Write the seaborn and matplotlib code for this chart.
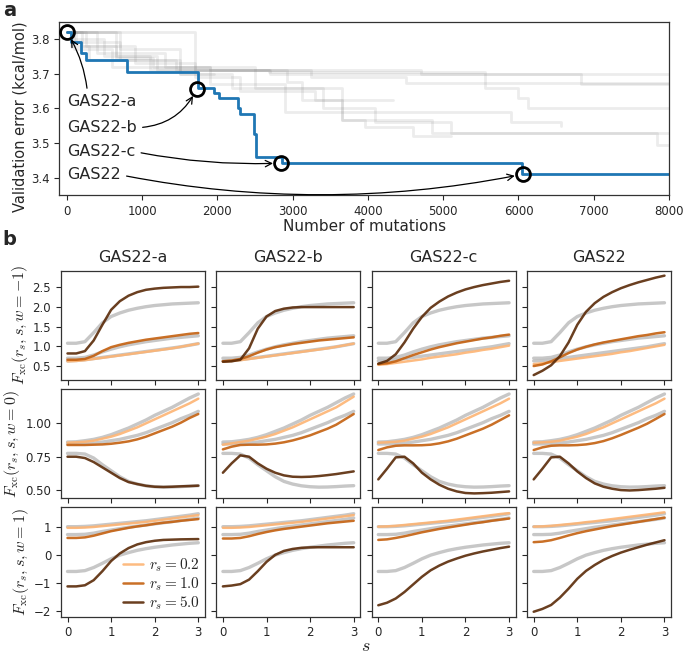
import matplotlib
matplotlib.use("Agg")
import matplotlib.pyplot as plt
import seaborn as sns

sns.set_theme(style="ticks")
plt.rcParams["font.family"] = ["DejaVu Sans"]
plt.rcParams["mathtext.fontset"] = "cm"
plt.rcParams["xtick.labelsize"] = 8.5
plt.rcParams["ytick.labelsize"] = 8.5
plt.rcParams["xtick.major.size"] = 3.5
plt.rcParams["ytick.major.size"] = 3.5
plt.rcParams["xtick.major.width"] = 0.8
plt.rcParams["ytick.major.width"] = 0.8
plt.rcParams["axes.linewidth"] = 0.9
plt.rcParams["axes.edgecolor"] = "#333333"

# ---- panel a: validation error vs number of mutations ----
best_x = [0, 60, 190, 260, 800, 1740, 1960, 2020, 2270, 2300, 2480, 2510, 2860, 6050, 8000]
best_y = [3.82, 3.79, 3.76, 3.74, 3.705, 3.66, 3.645, 3.63, 3.60, 3.585, 3.525, 3.46, 3.442, 3.41, 3.41]

gray_runs_x = [
    [0, 250, 650, 1150, 1900, 4700, 8000],
    [0, 120, 700, 1450, 3250, 4500, 8000],
    [0, 80, 500, 1200, 2680, 5560, 6000, 6120, 8000],
    [0, 650, 1100, 2920, 3120, 3650, 3960, 4600, 5100],
    [0, 200, 900, 1700, 2300, 3300, 4330],
    [0, 100, 600, 1900, 2900, 5900, 6570],
    [0, 400, 1300, 2500, 3660, 4850, 7840, 8000],
    [0, 50, 300, 1500, 1950],
    [0, 700, 1500, 2200, 3400, 4100, 5100, 8000],
    [0, 1700, 2700, 6830, 8000],
]
gray_runs_y = [
    [3.82, 3.78, 3.745, 3.72, 3.71, 3.70, 3.70],
    [3.82, 3.79, 3.74, 3.71, 3.69, 3.672, 3.672],
    [3.82, 3.80, 3.75, 3.71, 3.705, 3.66, 3.63, 3.60, 3.60],
    [3.82, 3.75, 3.71, 3.675, 3.625, 3.566, 3.547, 3.52, 3.52],
    [3.82, 3.78, 3.73, 3.69, 3.65, 3.624, 3.624],
    [3.82, 3.77, 3.72, 3.67, 3.59, 3.56, 3.55],
    [3.82, 3.76, 3.72, 3.66, 3.566, 3.53, 3.495, 3.495],
    [3.82, 3.78, 3.74, 3.70, 3.70],
    [3.82, 3.77, 3.70, 3.66, 3.60, 3.56, 3.53, 3.53],
    [3.82, 3.71, 3.70, 3.67, 3.67],
]

marked_names = ["GAS22-a", "GAS22-b", "GAS22-c", "GAS22"]
marked_x = [0, 1730, 2850, 6060]
marked_y = [3.82, 3.657, 3.442, 3.41]
label_y = [3.619, 3.544, 3.475, 3.408]

# ---- panel b: enhancement factors ----
s_grid = [0.0, 0.2, 0.4, 0.6, 0.8, 1.0, 1.2, 1.4, 1.6, 1.8, 2.0, 2.2, 2.4, 2.6, 2.8, 3.0]
rs_labels = [r"$r_s = 0.2$", r"$r_s = 1.0$", r"$r_s = 5.0$"]
rs_colors = ["#fdb473", "#c4600f", "#5a2a08"]
w_labels = [r"$F_{\rm xc}(r_s, s, w=-1)$", r"$F_{\rm xc}(r_s, s, w=0)$", r"$F_{\rm xc}(r_s, s, w=1)$"]
col_titles = ["GAS22-a", "GAS22-b", "GAS22-c", "GAS22"]

# reference functional (gray), order rs = 0.2, 1.0, 5.0
ref_wm1 = [
    [0.63, 0.64, 0.66, 0.69, 0.72, 0.75, 0.78, 0.81, 0.84, 0.87, 0.90, 0.93, 0.96, 0.99, 1.03, 1.07],
    [0.70, 0.70, 0.72, 0.78, 0.86, 0.93, 0.99, 1.04, 1.08, 1.12, 1.15, 1.18, 1.21, 1.23, 1.25, 1.27],
    [1.08, 1.08, 1.12, 1.35, 1.60, 1.76, 1.85, 1.92, 1.97, 2.01, 2.04, 2.06, 2.08, 2.09, 2.10, 2.11],
]
ref_w0 = [
    [0.86, 0.862, 0.87, 0.88, 0.895, 0.915, 0.94, 0.965, 0.995, 1.025, 1.06, 1.09, 1.12, 1.155, 1.19, 1.22],
    [0.845, 0.846, 0.848, 0.852, 0.86, 0.87, 0.88, 0.895, 0.91, 0.93, 0.955, 0.98, 1.005, 1.035, 1.06, 1.09],
    [0.775, 0.775, 0.77, 0.74, 0.69, 0.645, 0.60, 0.565, 0.545, 0.532, 0.525, 0.522, 0.523, 0.526, 0.53, 0.533],
]
ref_wp1 = [
    [1.00, 1.00, 1.01, 1.03, 1.06, 1.09, 1.12, 1.15, 1.18, 1.21, 1.25, 1.29, 1.33, 1.37, 1.41, 1.46],
    [0.72, 0.72, 0.73, 0.77, 0.83, 0.88, 0.93, 0.98, 1.02, 1.06, 1.10, 1.14, 1.18, 1.22, 1.26, 1.31],
    [-0.59, -0.59, -0.56, -0.45, -0.30, -0.14, -0.01, 0.08, 0.16, 0.22, 0.27, 0.31, 0.35, 0.38, 0.41, 0.43],
]

gas22a_wm1 = [
    [0.62, 0.63, 0.65, 0.68, 0.71, 0.74, 0.77, 0.80, 0.83, 0.86, 0.89, 0.92, 0.95, 0.99, 1.03, 1.07],
    [0.66, 0.66, 0.68, 0.76, 0.88, 0.98, 1.04, 1.09, 1.13, 1.17, 1.20, 1.23, 1.26, 1.29, 1.32, 1.34],
    [0.82, 0.82, 0.88, 1.15, 1.55, 1.93, 2.15, 2.29, 2.38, 2.44, 2.47, 2.49, 2.50, 2.51, 2.51, 2.52],
]
gas22b_wm1 = [
    [0.62, 0.63, 0.65, 0.68, 0.71, 0.74, 0.77, 0.80, 0.83, 0.86, 0.89, 0.92, 0.95, 0.99, 1.03, 1.07],
    [0.62, 0.64, 0.68, 0.75, 0.84, 0.92, 0.98, 1.02, 1.06, 1.09, 1.12, 1.15, 1.17, 1.19, 1.21, 1.23],
    [0.61, 0.62, 0.66, 0.95, 1.45, 1.76, 1.90, 1.96, 1.99, 2.0, 2.0, 2.0, 2.0, 2.0, 2.0, 2.0],
]
gas22c_wm1 = [
    [0.53, 0.55, 0.58, 0.61, 0.64, 0.67, 0.71, 0.74, 0.77, 0.80, 0.84, 0.87, 0.91, 0.94, 0.98, 1.02],
    [0.55, 0.57, 0.62, 0.70, 0.78, 0.85, 0.92, 0.98, 1.03, 1.08, 1.12, 1.16, 1.20, 1.23, 1.27, 1.30],
    [0.56, 0.63, 0.80, 1.10, 1.45, 1.75, 1.98, 2.14, 2.27, 2.37, 2.45, 2.51, 2.56, 2.60, 2.64, 2.67],
]
gas22_wm1 = [
    [0.55, 0.57, 0.60, 0.63, 0.66, 0.69, 0.72, 0.75, 0.78, 0.81, 0.85, 0.88, 0.92, 0.96, 1.00, 1.04],
    [0.50, 0.54, 0.62, 0.72, 0.83, 0.92, 0.99, 1.05, 1.10, 1.14, 1.18, 1.22, 1.26, 1.29, 1.33, 1.36],
    [0.27, 0.38, 0.52, 0.75, 1.10, 1.55, 1.88, 2.10, 2.26, 2.38, 2.48, 2.56, 2.63, 2.69, 2.75, 2.80],
]

gas22a_w0 = [
    [0.855, 0.858, 0.862, 0.87, 0.885, 0.90, 0.92, 0.945, 0.97, 1.0, 1.03, 1.06, 1.09, 1.12, 1.15, 1.185],
    [0.838, 0.838, 0.838, 0.84, 0.842, 0.847, 0.855, 0.865, 0.88, 0.90, 0.925, 0.95, 0.975, 1.005, 1.04, 1.07],
    [0.75, 0.75, 0.74, 0.71, 0.67, 0.63, 0.59, 0.56, 0.545, 0.532, 0.525, 0.523, 0.525, 0.528, 0.53, 0.533],
]
gas22b_w0 = [
    [0.84, 0.85, 0.86, 0.87, 0.885, 0.90, 0.92, 0.945, 0.97, 1.0, 1.03, 1.06, 1.09, 1.12, 1.16, 1.20],
    [0.805, 0.825, 0.838, 0.84, 0.84, 0.842, 0.848, 0.858, 0.872, 0.89, 0.91, 0.935, 0.96, 0.99, 1.03, 1.07],
    [0.63, 0.70, 0.76, 0.75, 0.70, 0.66, 0.63, 0.61, 0.60, 0.598, 0.60, 0.605, 0.612, 0.62, 0.63, 0.64],
]
gas22c_w0 = [
    [0.855, 0.858, 0.862, 0.87, 0.885, 0.90, 0.92, 0.945, 0.97, 1.0, 1.03, 1.06, 1.09, 1.12, 1.15, 1.185],
    [0.80, 0.82, 0.832, 0.835, 0.835, 0.836, 0.84, 0.85, 0.865, 0.885, 0.91, 0.935, 0.96, 0.99, 1.025, 1.06],
    [0.58, 0.66, 0.745, 0.75, 0.70, 0.63, 0.58, 0.54, 0.51, 0.49, 0.478, 0.475, 0.477, 0.48, 0.485, 0.49],
]
gas22_w0 = [
    [0.855, 0.858, 0.862, 0.87, 0.885, 0.90, 0.92, 0.945, 0.97, 1.0, 1.03, 1.06, 1.09, 1.12, 1.15, 1.185],
    [0.80, 0.82, 0.832, 0.835, 0.835, 0.837, 0.842, 0.852, 0.867, 0.888, 0.913, 0.94, 0.967, 0.997, 1.033, 1.07],
    [0.58, 0.66, 0.745, 0.75, 0.70, 0.64, 0.59, 0.55, 0.525, 0.51, 0.50, 0.497, 0.50, 0.505, 0.51, 0.517],
]

gas22a_wp1 = [
    [0.96, 0.96, 0.97, 0.99, 1.02, 1.05, 1.08, 1.11, 1.14, 1.17, 1.21, 1.25, 1.29, 1.33, 1.37, 1.41],
    [0.60, 0.60, 0.62, 0.68, 0.76, 0.84, 0.90, 0.96, 1.01, 1.05, 1.10, 1.14, 1.17, 1.21, 1.24, 1.27],
    [-1.12, -1.12, -1.08, -0.90, -0.58, -0.22, 0.05, 0.24, 0.37, 0.45, 0.50, 0.53, 0.54, 0.55, 0.555, 0.56],
]
gas22b_wp1 = [
    [0.96, 0.96, 0.97, 0.99, 1.02, 1.05, 1.08, 1.11, 1.14, 1.17, 1.21, 1.25, 1.29, 1.33, 1.37, 1.41],
    [0.58, 0.58, 0.60, 0.66, 0.74, 0.81, 0.87, 0.92, 0.96, 1.00, 1.04, 1.08, 1.12, 1.15, 1.18, 1.21],
    [-1.12, -1.09, -1.04, -0.88, -0.58, -0.25, 0.0, 0.14, 0.21, 0.25, 0.265, 0.27, 0.27, 0.27, 0.27, 0.27],
]
gas22c_wp1 = [
    [1.00, 1.01, 1.03, 1.06, 1.09, 1.12, 1.15, 1.18, 1.21, 1.25, 1.29, 1.33, 1.37, 1.41, 1.45, 1.48],
    [0.53, 0.55, 0.60, 0.66, 0.73, 0.80, 0.86, 0.92, 0.97, 1.02, 1.07, 1.12, 1.16, 1.21, 1.25, 1.29],
    [-1.79, -1.70, -1.55, -1.32, -1.05, -0.78, -0.55, -0.38, -0.24, -0.13, -0.03, 0.05, 0.12, 0.18, 0.24, 0.29],
]
gas22_wp1 = [
    [1.00, 1.01, 1.03, 1.06, 1.09, 1.12, 1.16, 1.19, 1.23, 1.27, 1.31, 1.35, 1.39, 1.43, 1.47, 1.51],
    [0.45, 0.47, 0.52, 0.60, 0.69, 0.77, 0.84, 0.90, 0.96, 1.02, 1.07, 1.12, 1.17, 1.22, 1.27, 1.32],
    [-2.02, -1.92, -1.78, -1.52, -1.20, -0.85, -0.57, -0.36, -0.18, -0.04, 0.08, 0.18, 0.27, 0.36, 0.44, 0.52],
]

ref_rows = [ref_wm1, ref_w0, ref_wp1]
gas_rows = [
    [gas22a_wm1, gas22b_wm1, gas22c_wm1, gas22_wm1],
    [gas22a_w0, gas22b_w0, gas22c_w0, gas22_w0],
    [gas22a_wp1, gas22b_wp1, gas22c_wp1, gas22_wp1],
]

fig = plt.figure(figsize=(6.92, 6.61), dpi=100)

# panel a
ax_a = fig.add_axes([0.0857, 0.705, 0.8811, 0.2622])
for rx, ry in zip(gray_runs_x, gray_runs_y):
    sns.lineplot(x=rx, y=ry, ax=ax_a, color="gray", alpha=0.15, lw=2,
                 drawstyle="steps-post", estimator=None)
sns.lineplot(x=best_x, y=best_y, ax=ax_a, color="#1f77b4", lw=2,
             drawstyle="steps-post", estimator=None)
ax_a.plot(marked_x, marked_y, "o", ms=10, mfc="none", mec="black", mew=2, zorder=5)

rads = [0.12, 0.3, 0.06, 0.1]
for name, mx, my, ly, rad in zip(marked_names, marked_x, marked_y, label_y, rads):
    relpos = (0.3, 1.0) if name == "GAS22-a" else (1.0, 0.5)
    ax_a.annotate(name, xy=(mx, my), xytext=(0, ly), ha="left", va="center", fontsize=11.5,
                  arrowprops=dict(arrowstyle="->", color="black", lw=0.9,
                                  connectionstyle=f"arc3,rad={rad}", relpos=relpos,
                                  shrinkA=2, shrinkB=6))
ax_a.set_xlim(-100, 8000)
ax_a.set_ylim(3.35, 3.85)
ax_a.set_xticks(range(0, 8001, 1000))
ax_a.set_yticks([3.4, 3.5, 3.6, 3.7, 3.8])
ax_a.set_xlabel("Number of mutations", fontsize=11, labelpad=1)
ax_a.set_ylabel("Validation error (kcal/mol)", fontsize=10.5)
ax_a.yaxis.set_label_coords(-0.052, 0.45)

# panel b
gs = fig.add_gridspec(3, 4, left=0.0881, right=0.9697, top=0.5905, bottom=0.067,
                      wspace=0.08, hspace=0.082)
axes = gs.subplots(sharex=True, sharey="row")
for r in range(3):
    for c in range(4):
        ax = axes[r][c]
        for ref in ref_rows[r]:
            sns.lineplot(x=s_grid, y=ref, ax=ax, color="#bdbdbd", alpha=0.85, lw=2.4)
        for k in range(3):
            lab = rs_labels[k] if (r == 2 and c == 0) else None
            sns.lineplot(x=s_grid, y=gas_rows[r][c][k], ax=ax, color=rs_colors[k],
                         alpha=0.9, lw=1.8, label=lab)
        if r == 0:
            ax.set_title(col_titles[c], fontsize=11.5)
        if c == 0:
            ax.set_ylabel(w_labels[r], fontsize=11.5, labelpad=2)
        ax.set_xticks([0, 1, 2, 3])
        if ax.get_legend() is not None and not (r == 2 and c == 0):
            ax.get_legend().remove()

axes[0][0].set_yticks([0.5, 1.0, 1.5, 2.0, 2.5])
axes[1][0].set_yticks([0.5, 0.75, 1.0])
axes[2][0].set_yticks([-2, -1, 0, 1])
axes[2][0].legend(loc="lower right", frameon=False, fontsize=11, labelspacing=0.1,
                  handlelength=1.3, handletextpad=0.4, borderaxespad=0.1, borderpad=0.2)

fig.text(0.529, 0.022, "$s$", ha="center", va="center", fontsize=13)
fig.text(0.004, 0.999, "a", fontsize=14, fontweight="bold", va="top")
fig.text(0.004, 0.637, "b", fontsize=14, fontweight="bold", va="center")

fig.savefig("out.png", dpi=100)
